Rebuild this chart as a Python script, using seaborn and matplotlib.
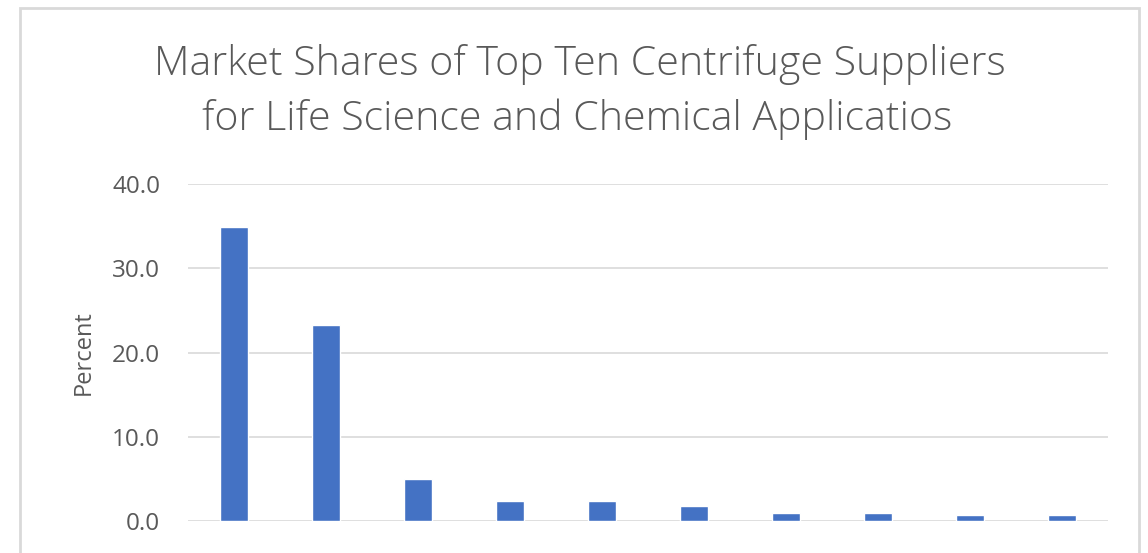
import pandas as pd
import numpy as np
import matplotlib.pyplot as plt
import seaborn as sns
from matplotlib.patches import Rectangle

# market shares (percent), largest supplier first
suppliers = ['S1', 'S2', 'S3', 'S4', 'S5', 'S6', 'S7', 'S8', 'S9', 'S10']
share = [34.9, 23.3, 5.0, 2.4, 2.4, 1.8, 1.0, 1.0, 0.7, 0.7]
yticks = [0, 10, 20, 30, 40]

df = pd.DataFrame({'Supplier': suppliers, 'Percent': share})

sns.set_theme(style='white')
plt.rcParams['font.family'] = ['Open Sans', 'DejaVu Sans']

fig = plt.figure(figsize=(11.48, 5.53), dpi=100)
ax = fig.add_axes([0.1638, 0.0579, 0.8014, 0.6088])

sns.barplot(x='Supplier', y='Percent', data=df, color='#4472C4',
            width=0.31, saturation=1, ax=ax, zorder=3)

ax.set_ylim(0, 40)
ax.set_xlim(-0.5, len(suppliers) - 0.5)
ax.set_yticks(yticks)
ax.set_yticklabels([f'{v:.1f}' for v in yticks], color='#595959', fontsize=17.5)
ax.tick_params(axis='y', length=0, pad=20)
ax.set_xticks(range(len(suppliers)))
ax.set_xticklabels([])
ax.tick_params(axis='x', length=0)
ax.grid(axis='y', color='#d9d9d9', linewidth=1.2, zorder=0)
ax.set_xlabel('')
ax.set_ylabel('Percent', color='#595959', fontsize=17, labelpad=12)
for s in ax.spines.values():
    s.set_visible(False)

# outer chart border, cut off at the bottom like the screenshot
fig.patches.append(Rectangle((20 / 1148, -0.05), 1119 / 1148, 1.05 - 8 / 553,
                             transform=fig.transFigure, fill=False,
                             edgecolor='#d9d9d9', linewidth=2))

fig.text(0.505, 0.8644, 'Market Shares of Top Ten Centrifuge Suppliers',
         ha='center', va='baseline', fontsize=29.6, color='#595959', fontweight='light')
fig.text(0.503, 0.7649, 'for Life Science and Chemical Applicatios',
         ha='center', va='baseline', fontsize=29.6, color='#595959', fontweight='light')

fig.savefig('out.png', dpi=100)
